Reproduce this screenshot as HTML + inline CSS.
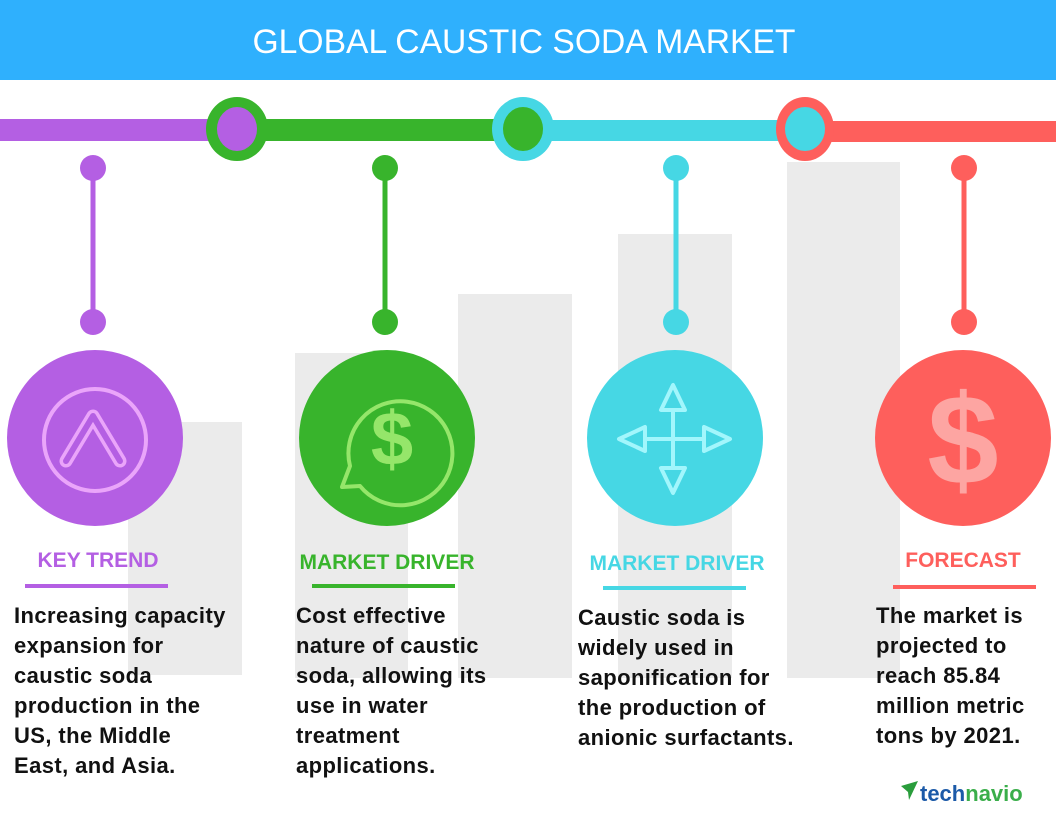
<!DOCTYPE html>
<html><head><meta charset="utf-8"><style>
html,body{margin:0;padding:0;background:#fff}
svg{display:block}
text{font-family:"Liberation Sans",sans-serif}
</style></head><body>
<svg width="1056" height="816" viewBox="0 0 1056 816" xmlns="http://www.w3.org/2000/svg">
<rect x="0" y="0" width="1056" height="80" fill="#2fb0fd"/>
<text x="524" y="53" fill="#fff" font-size="34" text-anchor="middle" textLength="543" lengthAdjust="spacingAndGlyphs">GLOBAL CAUSTIC SODA MARKET</text>
<g fill="#ebebeb">
<rect x="128" y="422" width="114" height="253"/>
<rect x="295" y="353" width="113" height="325"/>
<rect x="458" y="294" width="114" height="384"/>
<rect x="618" y="234" width="114" height="444"/>
<rect x="787" y="162" width="113" height="516"/>
</g>
<rect x="0" y="119" width="240" height="22" fill="#b45fe3"/>
<rect x="240" y="119" width="285" height="22" fill="#38b42c"/>
<rect x="525" y="120" width="280" height="21" fill="#46d7e4"/>
<rect x="805" y="121" width="251" height="21" fill="#fe5f5c"/>
<ellipse cx="237" cy="129" rx="31" ry="32" fill="#38b42c"/>
<ellipse cx="237" cy="129" rx="20" ry="22" fill="#b45fe3"/>
<ellipse cx="523" cy="129" rx="31" ry="32" fill="#46d7e4"/>
<ellipse cx="523" cy="129" rx="20" ry="22" fill="#38b42c"/>
<ellipse cx="805" cy="129" rx="29" ry="32" fill="#fe5f5c"/>
<ellipse cx="805" cy="129" rx="20" ry="22" fill="#46d7e4"/>
<g stroke-width="5">
<line x1="93" y1="168" x2="93" y2="322" stroke="#b45fe3"/>
<line x1="385" y1="168" x2="385" y2="322" stroke="#38b42c"/>
<line x1="676" y1="168" x2="676" y2="322" stroke="#46d7e4"/>
<line x1="964" y1="168" x2="964" y2="322" stroke="#fe5f5c"/>
</g>
<circle cx="93" cy="168" r="13" fill="#b45fe3"/><circle cx="93" cy="322" r="13" fill="#b45fe3"/>
<circle cx="385" cy="168" r="13" fill="#38b42c"/><circle cx="385" cy="322" r="13" fill="#38b42c"/>
<circle cx="676" cy="168" r="13" fill="#46d7e4"/><circle cx="676" cy="322" r="13" fill="#46d7e4"/>
<circle cx="964" cy="168" r="13" fill="#fe5f5c"/><circle cx="964" cy="322" r="13" fill="#fe5f5c"/>
<circle cx="95" cy="438" r="88" fill="#b45fe3"/>
<circle cx="95" cy="440" r="51" fill="none" stroke="#eaa5fa" stroke-width="4"/>
<path d="M66 461 L93 416 L120 461" fill="none" stroke="#eaa5fa" stroke-width="13" stroke-linecap="round" stroke-linejoin="round"/>
<path d="M66 461 L93 416 L120 461" fill="none" stroke="#b45fe3" stroke-width="6" stroke-linecap="round" stroke-linejoin="round"/>
<circle cx="387" cy="438" r="88" fill="#38b42c"/>
<path d="M350 466 A52 52 0 1 1 360 486 L342 487 Z" fill="none" stroke="#95e66a" stroke-width="4" stroke-linejoin="round"/>
<text x="392" y="465" font-size="76" font-weight="bold" fill="#95e66a" text-anchor="middle">$</text>
<circle cx="675" cy="438" r="88" fill="#46d7e4"/>
<g stroke="#a2f6fc" stroke-width="4" fill="none" stroke-linejoin="round">
<line x1="673" y1="410" x2="673" y2="468"/><line x1="646" y1="439" x2="705" y2="439"/>
<path d="M673 385 L661 410 L685 410 Z"/><path d="M673 493 L661 468 L685 468 Z"/>
<path d="M619 439 L645 427 L645 451 Z"/><path d="M730 439 L704 427 L704 451 Z"/>
</g>
<circle cx="963" cy="438" r="88" fill="#fe5f5c"/>
<text x="963" y="484" font-size="128" font-weight="bold" fill="#fda5a2" text-anchor="middle">$</text>
<g font-weight="bold" font-size="21" text-anchor="middle">
<text x="98" y="567" fill="#b45fe3">KEY TREND</text>
<text x="387" y="569" fill="#38b42c">MARKET DRIVER</text>
<text x="677" y="570" fill="#46d7e4">MARKET DRIVER</text>
<text x="963" y="567" fill="#fe5f5c">FORECAST</text>
</g>
<rect x="25" y="584" width="143" height="4" fill="#b45fe3"/>
<rect x="312" y="584" width="143" height="4" fill="#38b42c"/>
<rect x="603" y="586" width="143" height="4" fill="#46d7e4"/>
<rect x="893" y="585" width="143" height="4" fill="#fe5f5c"/>
<g font-weight="bold" font-size="22" fill="#111" letter-spacing="0.4">
<text x="14" y="623">Increasing capacity</text>
<text x="14" y="653">expansion for</text>
<text x="14" y="683">caustic soda</text>
<text x="14" y="713">production in the</text>
<text x="14" y="743">US, the Middle</text>
<text x="14" y="773">East, and Asia.</text>
<text x="296" y="623">Cost effective</text>
<text x="296" y="653">nature of caustic</text>
<text x="296" y="683">soda, allowing its</text>
<text x="296" y="713">use in water</text>
<text x="296" y="743">treatment</text>
<text x="296" y="773">applications.</text>
<text x="578" y="625">Caustic soda is</text>
<text x="578" y="655">widely used in</text>
<text x="578" y="685">saponification for</text>
<text x="578" y="715">the production of</text>
<text x="578" y="745">anionic surfactants.</text>
<text x="876" y="623">The market is</text>
<text x="876" y="653">projected to</text>
<text x="876" y="683">reach 85.84</text>
<text x="876" y="713">million metric</text>
<text x="876" y="743">tons by 2021.</text>
</g>
<path d="M901 786 L918 781 L909 800 L908 792 Z" fill="#2a9d3c"/>
<text x="920" y="801" font-size="22" font-weight="bold" fill="#1c5aa8">tech<tspan fill="#3aae4a">navio</tspan></text>
</svg>
</body></html>
